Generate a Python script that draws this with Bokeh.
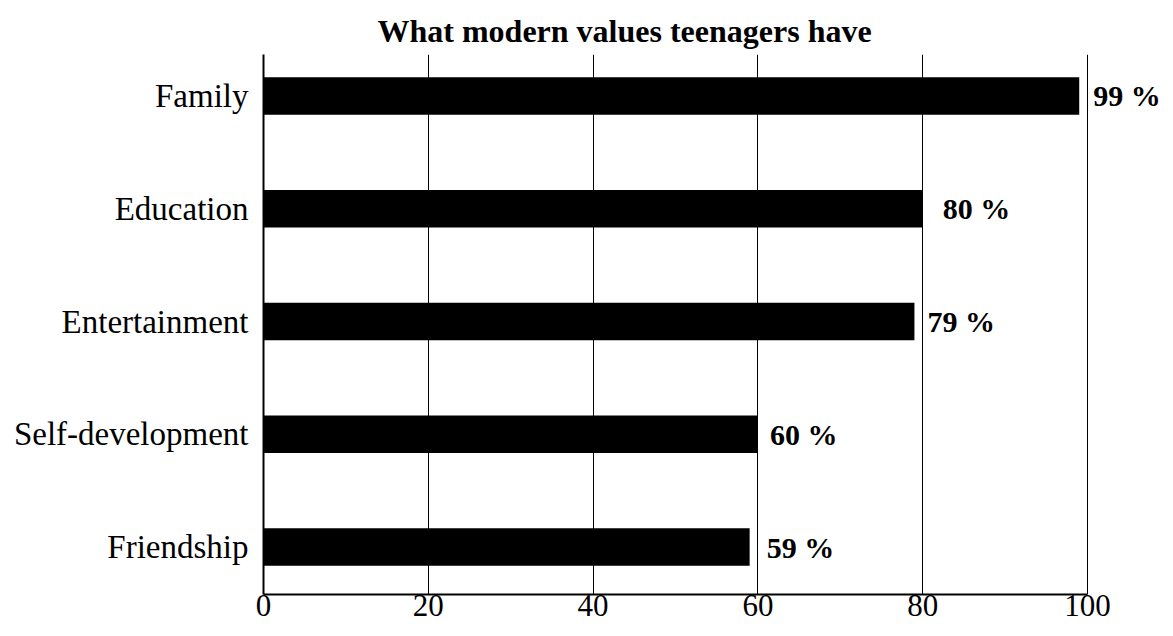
from bokeh.plotting import figure
from bokeh.models import ColumnDataSource, Range1d, FixedTicker, Title
from bokeh.core.properties import value
from bokeh.embed import file_html
from bokeh.resources import INLINE

# ---- data ----
categories = ["Family", "Education", "Entertainment", "Self-development", "Friendship"]
percent = [99, 80, 79, 60, 59]
value_labels = ["99 %", "80 %", "79 %", "60 %", "59 %"]
x_ticks = [0, 20, 40, 60, 80, 100]
title_text = "What modern values teenagers have"

# ---- styling (not data) ----
label_gap_px = [14, 20, 13, 12, 17]
SERIF = "Liberation Serif"

n = len(categories)
ypos = [n - 1 - i for i in range(n)]

src = ColumnDataSource(dict(y=ypos, v=percent, lab=value_labels, gap=label_gap_px, cat=categories))

p = figure(width=1165, height=628, output_backend="svg", toolbar_location=None,
           x_range=Range1d(0, 109.47), y_range=Range1d(-0.421, 4.368),
           min_border_left=263, min_border_right=0, min_border_top=54, min_border_bottom=34)
p.title = None
p.outline_line_color = None
p.background_fill_color = "white"
p.border_fill_color = "white"

p.add_layout(Title(text=title_text, text_font=SERIF, text_font_size="32px",
                   text_font_style="bold", text_color="black", align="left",
                   offset=114, standoff=11), "above")

p.hbar(y="y", left=0, right="v", height=0.333, source=src, fill_color="black", line_color=None)

p.text(x="v", y="y", text="lab", x_offset="gap", source=src,
       text_font=value(SERIF), text_font_size="30px", text_font_style="bold",
       text_baseline="middle", text_align="left", text_color="black")

# x axis
xa = p.xaxis[0]
xa.ticker = FixedTicker(ticks=x_ticks)
xa.bounds = (0, 100)
xa.axis_line_width = 2
xa.axis_line_color = "black"
xa.major_tick_line_color = None
xa.minor_tick_line_color = None
xa.major_tick_out = 0
xa.major_tick_in = 0
xa.major_label_standoff = 0
xa.major_label_text_font = SERIF
xa.major_label_text_font_size = "31px"
xa.major_label_text_color = "black"

# y axis
ya = p.yaxis[0]
ya.ticker = FixedTicker(ticks=ypos)
ya.major_label_overrides = {y: c for y, c in zip(ypos, categories)}
ya.axis_line_width = 2
ya.axis_line_color = "black"
ya.major_tick_line_color = None
ya.minor_tick_line_color = None
ya.major_tick_out = 0
ya.major_tick_in = 0
ya.major_label_standoff = 15
ya.major_label_text_font = SERIF
ya.major_label_text_font_size = "33px"
ya.major_label_text_color = "black"

# grid
p.ygrid.visible = False
p.xgrid.ticker = FixedTicker(ticks=x_ticks[1:])
p.xgrid.grid_line_color = "black"
p.xgrid.grid_line_width = 1
p.xgrid.grid_line_alpha = 1.0

open("out.html", "w").write(file_html(p, INLINE))
